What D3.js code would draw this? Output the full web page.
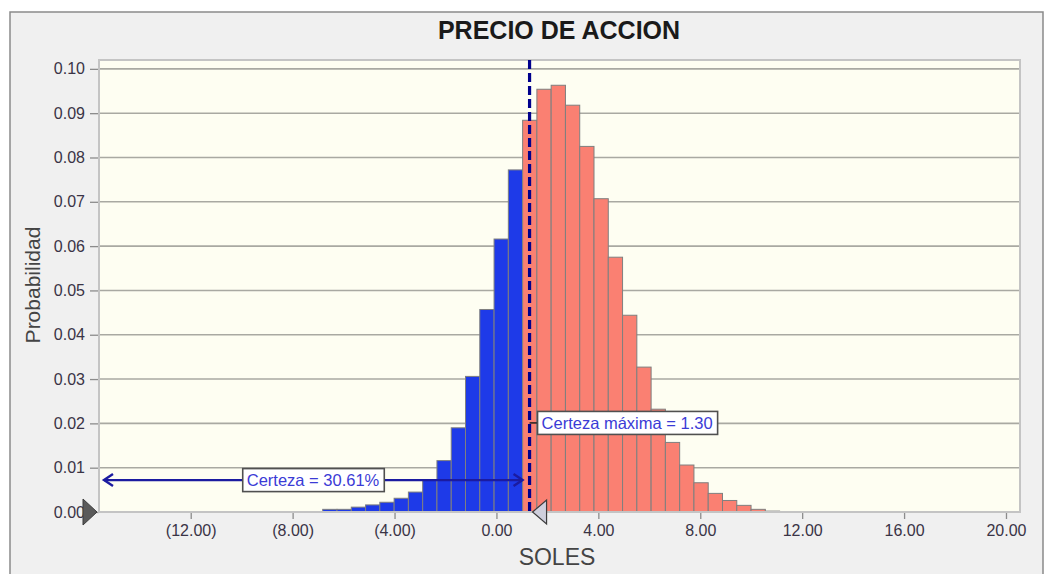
<!DOCTYPE html>
<html>
<head>
<meta charset="utf-8">
<script src="https://cdn.jsdelivr.net/npm/d3@7"></script>
<style>
  html, body { margin: 0; padding: 0; background: #ffffff; }
  svg { display: block; font-family: "Liberation Sans", Arial, sans-serif; }
</style>
</head>
<body>
<svg id="chart" width="1049" height="574"></svg>
<script>
// Forecast: PRECIO DE ACCION — relative frequency per bin (SOLES)
const binStart = -9.06;      // left edge of first bin (SOLES)
const binWidth = 0.5604;     // bin width (SOLES)
const probabilities = [
  0.0001, 0.0001, 0.0001, 0.0001, 0.0006, 0.0006, 0.0011, 0.0016,
  0.0022, 0.0031, 0.0045, 0.0072, 0.0116, 0.0190, 0.0306, 0.0457,
  0.0616, 0.0772, 0.0884, 0.0954, 0.0963, 0.0918, 0.0825, 0.0707,
  0.0575, 0.0444, 0.0327, 0.0232, 0.0157, 0.0106, 0.0066, 0.0042,
  0.0026, 0.0015, 0.0006, 0.0002, 0.0001, 0.0001
];
const certaintyMax = 1.30;        // upper bound of certainty range
const certaintyPct = "30.61%";    // certainty of range (-inf, 1.30]
const xTicks = [-12, -8, -4, 0, 4, 8, 12, 16, 20];
const yTicks = [0, 0.01, 0.02, 0.03, 0.04, 0.05, 0.06, 0.07, 0.08, 0.09, 0.10];
const xDomain = [-15.6, 20.55];
const yDomain = [0, 0.102];

const svg = d3.select("#chart");
const plot = { left: 99, right: 1020, top: 60, bottom: 512 };

const x = d3.scaleLinear().domain(xDomain).range([plot.left, plot.right]);
const y = d3.scaleLinear().domain(yDomain).range([plot.bottom, plot.top]);

// window frame
svg.append("rect")
  .attr("x", 10).attr("y", 12).attr("width", 1033).attr("height", 570)
  .attr("fill", "#f0f0f0").attr("stroke", "#8a8a8a").attr("stroke-width", 1.5);

// title
svg.append("text")
  .attr("x", 559).attr("y", 39)
  .attr("text-anchor", "middle")
  .attr("font-size", 25).attr("font-weight", "bold").attr("fill", "#1a1a1a")
  .text("PRECIO DE ACCION");

// plot background
svg.append("rect")
  .attr("x", plot.left).attr("y", plot.top)
  .attr("width", plot.right - plot.left).attr("height", plot.bottom - plot.top)
  .attr("fill", "#fefef2");

// horizontal grid
svg.append("g")
  .selectAll("line")
  .data(yTicks.filter(d => d > 0))
  .join("line")
  .attr("x1", plot.left).attr("x2", plot.right)
  .attr("y1", d => y(d)).attr("y2", d => y(d))
  .attr("stroke", "#a9a9a2").attr("stroke-width", 1.6);

// y axis
const yAxis = svg.append("g")
  .attr("transform", `translate(${plot.left},0)`)
  .call(d3.axisLeft(y).tickValues(yTicks).tickFormat(d3.format(".2f")).tickSize(9).tickPadding(5));
yAxis.select(".domain").remove();
yAxis.selectAll(".tick line").attr("stroke", "#8c8c8c").attr("stroke-width", 1.3);
yAxis.selectAll(".tick text").attr("font-size", 16).attr("fill", "#3a3446")
  .attr("font-family", "'Liberation Sans', Arial, sans-serif");

// x axis
const fmtX = v => v < 0 ? "(" + d3.format(".2f")(-v) + ")" : d3.format(".2f")(v);
const xAxis = svg.append("g")
  .attr("transform", `translate(0,${plot.bottom})`)
  .call(d3.axisBottom(x).tickValues(xTicks).tickFormat(fmtX).tickSize(7).tickPadding(6));
xAxis.select(".domain").remove();
xAxis.selectAll(".tick line").attr("stroke", "#8c8c8c").attr("stroke-width", 1.3);
xAxis.selectAll(".tick text").attr("font-size", 16).attr("fill", "#3a3446")
  .attr("font-family", "'Liberation Sans', Arial, sans-serif");

// bars
const bins = probabilities.map((p, i) => ({
  x0: binStart + i * binWidth,
  x1: binStart + (i + 1) * binWidth,
  p
}));
svg.append("g")
  .selectAll("rect")
  .data(bins)
  .join("rect")
  .attr("x", d => x(d.x0))
  .attr("width", d => x(d.x1) - x(d.x0))
  .attr("y", d => y(d.p))
  .attr("height", d => y(0) - y(d.p))
  .attr("fill", d => d.x1 <= certaintyMax ? "#1e3ae8" : "#fa8072")
  .attr("stroke", "#7f7f7f").attr("stroke-width", 1);

// plot border
svg.append("rect")
  .attr("x", plot.left).attr("y", plot.top)
  .attr("width", plot.right - plot.left).attr("height", plot.bottom - plot.top)
  .attr("fill", "none").attr("stroke", "#c4c4c4").attr("stroke-width", 2);

// certainty bound (dashed)
svg.append("line")
  .attr("x1", x(certaintyMax)).attr("x2", x(certaintyMax))
  .attr("y1", plot.top).attr("y2", plot.bottom)
  .attr("stroke", "#00008c").attr("stroke-width", 3.2)
  .attr("stroke-dasharray", "9,4");

// certainty range arrow
const arrowY = y(0.0072);
const ax0 = plot.left + 5, ax1 = x(certaintyMax) - 7;
const arrowColor = "#1b1ba0";
svg.append("line")
  .attr("x1", ax0).attr("x2", ax1).attr("y1", arrowY).attr("y2", arrowY)
  .attr("stroke", arrowColor).attr("stroke-width", 2.2);
svg.append("path")
  .attr("d", `M${ax0 + 9},${arrowY - 6} L${ax0},${arrowY} L${ax0 + 9},${arrowY + 6}`)
  .attr("fill", "none").attr("stroke", arrowColor).attr("stroke-width", 2.4);
svg.append("path")
  .attr("d", `M${ax1 - 9},${arrowY - 6} L${ax1},${arrowY} L${ax1 - 9},${arrowY + 6}`)
  .attr("fill", "none").attr("stroke", arrowColor).attr("stroke-width", 2.4);

// label box helper
function labelBox(cx, cy, text, anchorLeft) {
  const g = svg.append("g");
  const t = g.append("text")
    .attr("y", cy + 6)
    .attr("font-size", 16.5).attr("fill", "#3b3bd6")
    .text(text);
  const w = t.node().getComputedTextLength();
  const bx = anchorLeft ? cx : cx - w / 2 - 5;
  t.attr("x", bx + 4);
  g.insert("rect", "text")
    .attr("x", bx).attr("y", cy - 11.5)
    .attr("width", w + 9).attr("height", 23)
    .attr("fill", "#ffffff").attr("stroke", "#505050").attr("stroke-width", 1.6);
  return g;
}
labelBox(314, arrowY, "Certeza = " + certaintyPct, false);

// certainty max label with connector
const cmY = y(0.0201);
svg.append("line")
  .attr("x1", x(certaintyMax)).attr("x2", x(certaintyMax) + 8)
  .attr("y1", cmY).attr("y2", cmY)
  .attr("stroke", "#202020").attr("stroke-width", 1.5);
labelBox(x(certaintyMax) + 8, cmY, "Certeza máxima = " + d3.format(".2f")(certaintyMax), true);

// grabbers
svg.append("path")
  .attr("d", `M${plot.left - 2},${plot.bottom} L${plot.left - 16},${plot.bottom - 13} L${plot.left - 16},${plot.bottom + 13} Z`)
  .attr("fill", "#5a5a5a").attr("stroke", "#3c3c3c").attr("stroke-width", 1);
const gx = x(certaintyMax) + 3;
svg.append("path")
  .attr("d", `M${gx},${plot.bottom} L${gx + 14},${plot.bottom - 12} L${gx + 14},${plot.bottom + 12} Z`)
  .attr("fill", "#cfcfdc").attr("stroke", "#3c3c3c").attr("stroke-width", 1.2);

// axis titles
svg.append("text")
  .attr("transform", `translate(40,285) rotate(-90)`)
  .attr("text-anchor", "middle")
  .attr("font-size", 21).attr("fill", "#444")
  .text("Probabilidad");
svg.append("text")
  .attr("x", 557).attr("y", 565)
  .attr("text-anchor", "middle")
  .attr("font-size", 23).attr("fill", "#444")
  .text("SOLES");
</script>
</body>
</html>
